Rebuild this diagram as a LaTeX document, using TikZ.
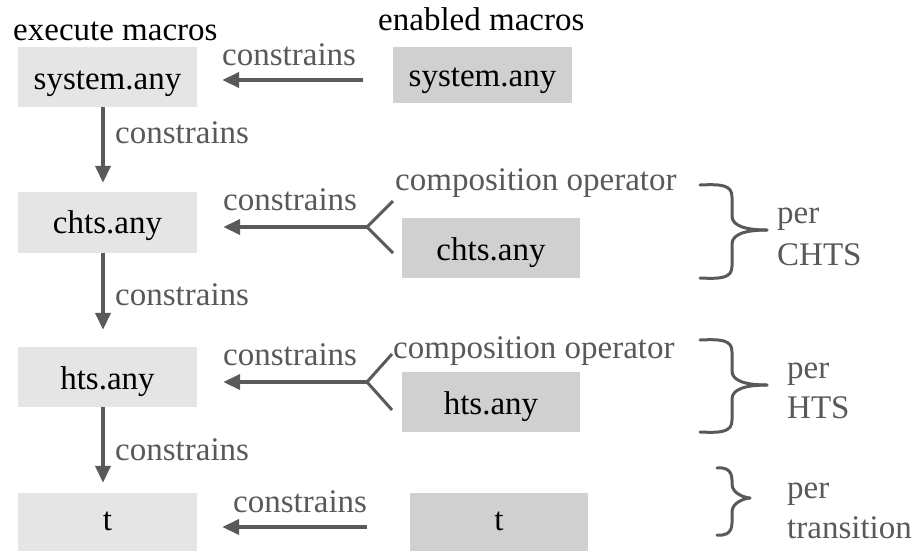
\documentclass[tikz,border=0pt]{standalone}
\usepackage{fontspec}
\setmainfont{Liberation Serif}
\usetikzlibrary{arrows.meta,calc}

\definecolor{boxlight}{HTML}{E5E5E5}
\definecolor{boxdark}{HTML}{D0D0D0}
\definecolor{linkgray}{HTML}{5A5A5A}
\definecolor{labelgray}{HTML}{595959}

% curly brace opening to the right: ends at x=#1, spine at x=#2, tip at x=#3,
% top at y=#4, tip at y=#5, bottom at y=#6
\newcommand\drawbrace[6]{%
  \draw[grp] (#1,#4) .. controls (#2-10,#4-1) and (#2,#4) .. (#2,#4+12)
    -- (#2,#5-14) .. controls (#2,#5-4) and (#2+14,#5) .. (#3,#5);
  \draw[grp] (#3,#5) .. controls (#2+14,#5) and (#2,#5+4) .. (#2,#5+14)
    -- (#2,#6-12) .. controls (#2,#6) and (#2-10,#6+1) .. (#1,#6);
}

\begin{document}
\begin{tikzpicture}[x=1pt,y=-1pt,
  every node/.style={font=\fontsize{33}{36}\selectfont, inner sep=0pt},
  macro/.style={minimum width=179pt, minimum height=60pt, text height=32pt, text depth=7pt},
  lbox/.style={macro, fill=boxlight},
  rbox/.style={macro, fill=boxdark, minimum width=178pt},
  tbox/.style={text height=14pt, text depth=0pt},
  caption/.style={anchor=base west, text=black},
  tag/.style={anchor=base west, text=labelgray},
  link/.style={draw=linkgray, line width=4pt, -{Triangle[length=17pt,width=15pt]}},
  fork/.style={draw=linkgray, line width=3pt},
  grp/.style={draw=labelgray, line width=3pt, line cap=round}
]
\useasboundingbox (0,0) rectangle (922,550);

% column headings
\node[caption] (hexec) at (13,40) {execute macros};
\node[caption] (henab) at (378,30) {enabled macros};

% executed macros (left column)
\node[lbox] (lsys)  at (107.5,77)    {system.any};
\node[lbox, minimum height=61pt, text height=28pt] (lchts) at (107.5,222.5) {chts.any};
\node[lbox] (lhts)  at (107.5,377)   {hts.any};
\node[lbox, tbox] (lt) at (107.5,523) {t};

% enabled macros (right column)
\node[rbox, minimum width=179pt, minimum height=56pt, text height=30pt] (rsys) at (482.5,75) {system.any};
\node[rbox] (rchts) at (491,248) {chts.any};
\node[rbox] (rhts)  at (491,402) {hts.any};
\node[rbox, tbox] (rt) at (499,523) {t};

% vertical constraints
\draw[link] ([xshift=-4.5pt]lsys.south) -- ([xshift=-4.5pt,yshift=9pt]lchts.north);
\draw[link] ([xshift=-4.5pt]lchts.south) -- ([xshift=-4.5pt,yshift=17pt]lhts.north);
\draw[link] ([xshift=-4.5pt]lhts.south) -- ([xshift=-4.5pt,yshift=10pt]lt.north);
\node[tag] (vc1) at (115,143) {constrains};
\node[tag] (vc2) at (115,305) {constrains};
\node[tag] (vc3) at (115,460) {constrains};

% system level
\coordinate (sysTail) at (363,80);
\draw[link] (sysTail) -- ($(lsys.east |- sysTail)+(25,0)$);
\node[tag] (hc1) at (222,65) {constrains};

% chts level with composition fork
\coordinate (chtsFork) at (367,227);
\draw[link] (chtsFork) -- ($(lchts.east |- chtsFork)+(26,0)$);
\draw[fork] (chtsFork) -- ++(26,-26);
\draw[fork] (chtsFork) -- ++(26,26);
\node[tag] (hc2) at (223,210) {constrains};
\node[tag] (comp1) at (395,190) {composition operator};

% hts level with composition fork
\coordinate (htsFork) at (367,382);
\draw[link] (htsFork) -- ($(lhts.east |- htsFork)+(26,0)$);
\draw[fork] (htsFork) -- ++(25,-28);
\draw[fork] (htsFork) -- ++(25,28);
\node[tag] (hc3) at (223,365) {constrains};
\node[tag] (comp2) at (393,358) {composition operator};

% transition level
\coordinate (tTail) at (367,527);
\draw[link] (tTail) -- ($(lt.east |- tTail)+(25,0)$);
\node[tag] (hc4) at (233,512) {constrains};

% scope braces
\drawbrace{700}{732}{767}{185}{230}{278}
\drawbrace{700}{732}{767}{340}{385}{432}
\drawbrace{717}{732}{750}{468}{498}{535}
\node[tag] (p1) at (777,223) {per};
\node[tag] (p1b) at (777,265) {CHTS};
\node[tag] (p2) at (787,378) {per};
\node[tag] (p2b) at (787,418) {HTS};
\node[tag] (p3) at (787,498) {per};
\node[tag] (p3b) at (787,538) {transition};
\end{tikzpicture}
\end{document}
